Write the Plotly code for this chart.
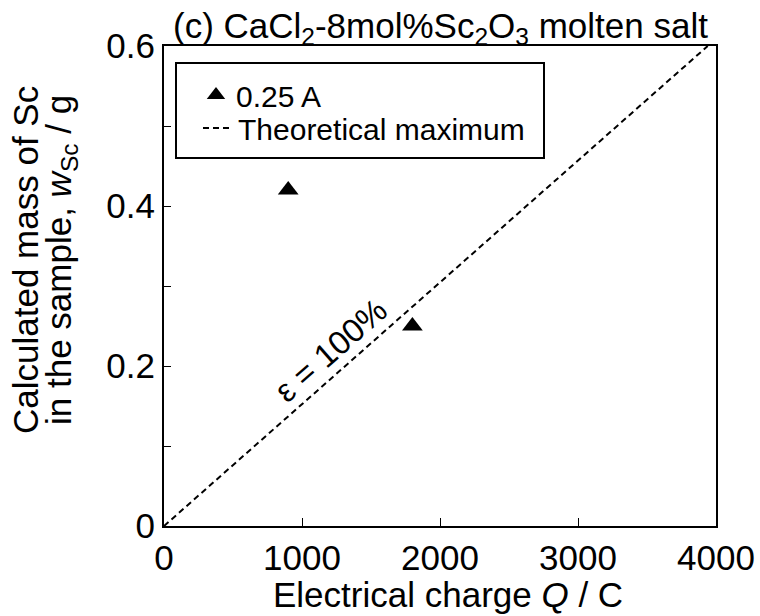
import plotly.graph_objects as go

# Data
q_025A = [900, 1800]          # Electrical charge Q / C
w_025A = [0.42, 0.25]         # Calculated mass of Sc / g
q_theory = [0, 3940]
w_theory = [0, 0.6]

x_ticks = [0, 1000, 2000, 3000, 4000]
x_ticklabels = ["0", "1000", "2000", "3000", "4000"]
y_ticks = [0, 0.1, 0.2, 0.3, 0.4, 0.5, 0.6]
y_ticklabels = ["0", "", "0.2", "", "0.4", "", "0.6"]

FONT = "Liberation Sans, Arial, sans-serif"
FS = 35

fig = go.Figure()
fig.add_trace(go.Scatter(
    x=q_025A, y=w_025A, mode="markers", name="0.25 A", legend="legend",
    marker=dict(symbol="triangle-up", size=18, color="black"),
))
fig.add_trace(go.Scatter(
    x=q_theory, y=w_theory, mode="lines", name="Theoretical maximum", legend="legend2",
    line=dict(color="black", width=2, dash="6px,4px"),
))

legend_common = dict(
    xanchor="left", yanchor="middle",
    bgcolor="rgba(0,0,0,0)", borderwidth=0,
    font=dict(family=FONT, size=30, color="black"),
)

fig.update_layout(
    width=760, height=616,
    margin=dict(l=164, r=44, t=46, b=90, autoexpand=False),
    paper_bgcolor="white", plot_bgcolor="white",
    font=dict(family=FONT, size=FS, color="black"),
    showlegend=True,
    legend=dict(x=(196-164)/552, y=(526-95)/480, **legend_common),
    legend2=dict(x=(198-164)/552, y=(526-128)/480, **legend_common),
    xaxis=dict(
        range=[0, 4000], tickvals=x_ticks, ticktext=x_ticklabels,
        ticks="inside", ticklen=8, tickwidth=1, tickcolor="black",
        showline=True, linecolor="black", linewidth=2, mirror=True,
        showgrid=False, zeroline=False, automargin=False,
        tickfont=dict(family=FONT, size=FS, color="black"),
    ),
    yaxis=dict(
        range=[0, 0.6], tickvals=y_ticks, ticktext=y_ticklabels,
        ticks="inside", ticklen=7, tickwidth=1, tickcolor="black",
        showline=True, linecolor="black", linewidth=2, mirror=True,
        showgrid=False, zeroline=False, automargin=False,
        tickfont=dict(family=FONT, size=FS, color="black"),
    ),
    shapes=[dict(
        type="rect", xref="paper", yref="paper",
        x0=12/552, x1=380/552, y0=(526-158)/480, y1=(526-63)/480,
        line=dict(color="black", width=2), fillcolor="rgba(0,0,0,0)",
    )],
    annotations=[
        dict(text="(c) CaCl<sub>2</sub>-8mol%Sc<sub>2</sub>O<sub>3</sub> molten salt",
             xref="paper", yref="paper", x=0.5, y=1, yanchor="bottom",
             xanchor="center", showarrow=False, yshift=-6,
             font=dict(family=FONT, size=FS, color="black")),
        dict(text="Electrical charge <i>Q</i> / C",
             xref="paper", yref="paper", x=0.5, y=0, xshift=8,
             yanchor="middle", xanchor="center", showarrow=False, yshift=-68,
             font=dict(family=FONT, size=FS, color="black")),
        dict(text="Calculated mass of Sc",
             xref="paper", yref="paper", x=0, y=0.5, xshift=-139, yshift=26,
             xanchor="center", yanchor="middle", textangle=-90, showarrow=False,
             font=dict(family=FONT, size=FS, color="black")),
        dict(text="in the sample, <i>w</i><sub>Sc</sub> / g",
             xref="paper", yref="paper", x=0, y=0.5, xshift=-103, yshift=26,
             xanchor="center", yanchor="middle", textangle=-90, showarrow=False,
             font=dict(family=FONT, size=FS, color="black")),
        dict(text="ε = 100%", x=1203, y=0.22, xref="x", yref="y",
             textangle=-41.4, showarrow=False, xanchor="center", yanchor="middle",
             font=dict(family=FONT, size=33, color="black")),
    ],
)

fig.write_html("out.html")
